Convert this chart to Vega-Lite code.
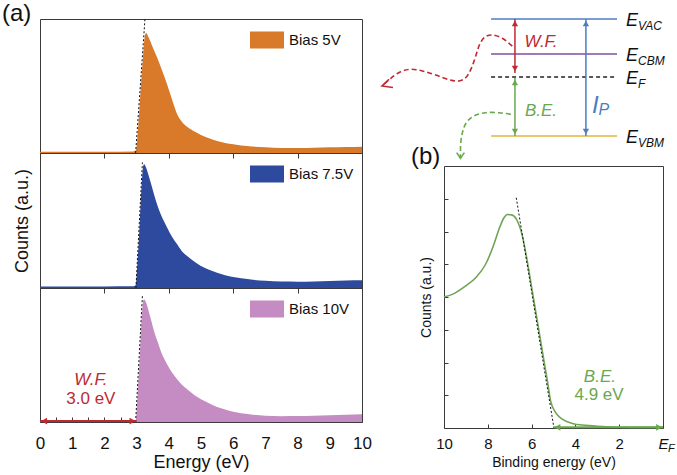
{
 "$schema": "https://vega.github.io/schema/vega-lite/v6.json",
 "background": "white",
 "padding": {"left": 1, "top": 1, "right": 0, "bottom": 0},
 "config": {
  "font": "Liberation Sans",
  "view": {"stroke": "#3a3a3a", "strokeWidth": 1},
  "axis": {"grid": false, "domain": false, "tickColor": "#3a3a3a", "labelColor": "#111111", "titleColor": "#111111", "titleFontWeight": "normal"},
  "title": {"fontWeight": "normal", "color": "#111111"},
  "legend": {"title": null, "orient": "none", "legendX": 210, "legendY": 4, "padding": 0, "symbolType": "M-1,-0.5H1V0.5H-1Z", "symbolSize": 1156, "symbolStrokeWidth": 0, "labelFontSize": 15, "labelOffset": 5, "labelColor": "#111111"}
 },
 "datasets": {
  "s5": [{"e":0,"c":0.01},{"e":1,"c":0.01},{"e":2,"c":0.01},{"e":2.9,"c":0.012},{"e":2.98,"c":0.02},{"e":3.05,"c":0.2},{"e":3.12,"c":0.45},{"e":3.2,"c":0.72},{"e":3.26,"c":0.88},{"e":3.3,"c":0.895},{"e":3.36,"c":0.87},{"e":3.5,"c":0.79},{"e":3.64,"c":0.71},{"e":3.8,"c":0.61},{"e":3.95,"c":0.51},{"e":4.1,"c":0.4},{"e":4.26,"c":0.29},{"e":4.4,"c":0.235},{"e":4.57,"c":0.195},{"e":4.8,"c":0.16},{"e":5.0,"c":0.135},{"e":5.25,"c":0.11},{"e":5.5,"c":0.09},{"e":6.0,"c":0.065},{"e":6.5,"c":0.05},{"e":7.0,"c":0.042},{"e":7.5,"c":0.037},{"e":8.0,"c":0.037},{"e":8.5,"c":0.04},{"e":9.0,"c":0.043},{"e":9.5,"c":0.045},{"e":10,"c":0.047}],
  "s75": [{"e":0,"c":0.012},{"e":1,"c":0.012},{"e":2,"c":0.012},{"e":2.9,"c":0.013},{"e":2.97,"c":0.02},{"e":3.03,"c":0.2},{"e":3.1,"c":0.5},{"e":3.16,"c":0.78},{"e":3.21,"c":0.91},{"e":3.24,"c":0.916},{"e":3.28,"c":0.9},{"e":3.33,"c":0.867},{"e":3.44,"c":0.78},{"e":3.54,"c":0.694},{"e":3.65,"c":0.61},{"e":3.75,"c":0.546},{"e":3.95,"c":0.447},{"e":4.1,"c":0.38},{"e":4.26,"c":0.324},{"e":4.4,"c":0.275},{"e":4.57,"c":0.237},{"e":4.8,"c":0.195},{"e":5.0,"c":0.163},{"e":5.25,"c":0.135},{"e":5.5,"c":0.113},{"e":5.75,"c":0.095},{"e":6.0,"c":0.081},{"e":6.5,"c":0.064},{"e":7.0,"c":0.053},{"e":7.5,"c":0.048},{"e":8.0,"c":0.047},{"e":8.5,"c":0.049},{"e":9.0,"c":0.052},{"e":9.5,"c":0.055},{"e":10,"c":0.057}],
  "s10": [{"e":0,"c":0.006},{"e":1,"c":0.006},{"e":2,"c":0.006},{"e":2.9,"c":0.007},{"e":2.97,"c":0.012},{"e":3.03,"c":0.2},{"e":3.1,"c":0.5},{"e":3.16,"c":0.78},{"e":3.21,"c":0.91},{"e":3.24,"c":0.915},{"e":3.28,"c":0.9},{"e":3.33,"c":0.866},{"e":3.44,"c":0.77},{"e":3.54,"c":0.679},{"e":3.65,"c":0.6},{"e":3.75,"c":0.53},{"e":3.95,"c":0.43},{"e":4.1,"c":0.37},{"e":4.26,"c":0.319},{"e":4.4,"c":0.28},{"e":4.57,"c":0.244},{"e":4.8,"c":0.2},{"e":5.0,"c":0.17},{"e":5.25,"c":0.14},{"e":5.5,"c":0.112},{"e":5.75,"c":0.093},{"e":6.0,"c":0.077},{"e":6.5,"c":0.058},{"e":7.0,"c":0.046},{"e":7.5,"c":0.043},{"e":8.0,"c":0.044},{"e":8.5,"c":0.047},{"e":9.0,"c":0.051},{"e":9.5,"c":0.054},{"e":10,"c":0.057}],
  "t5": [{"e":2.97,"c":0},{"e":3.26,"c":1}],
  "t75": [{"e":2.98,"c":0},{"e":3.18,"c":0.93}],
  "t10": [{"e":2.97,"c":0},{"e":3.18,"c":0.94}],
  "wfArrow": [{"e1":0,"e2":3.0,"c":0.007}],
  "wfHeads": [{"e":0.13,"c":0.007,"dir":"left"},{"e":2.87,"c":0.007,"dir":"right"}],
  "wfText": [{"e":1.58,"c":0.313,"t":"W.F."}],
  "wfVal": [{"e":1.58,"c":0.175,"t":"3.0 eV"}],
  "bline": [{"be":10.0,"c":4.0},{"be":9.62,"c":4.08},{"be":9.01,"c":4.34},{"be":8.55,"c":4.59},{"be":8.1,"c":5.0},{"be":7.72,"c":5.61},{"be":7.49,"c":6.07},{"be":7.26,"c":6.42},{"be":7.11,"c":6.52},{"be":6.88,"c":6.5},{"be":6.65,"c":6.32},{"be":6.42,"c":5.86},{"be":6.2,"c":5.1},{"be":5.97,"c":4.18},{"be":5.74,"c":3.27},{"be":5.51,"c":2.35},{"be":5.28,"c":1.44},{"be":5.13,"c":0.82},{"be":4.9,"c":0.47},{"be":4.6,"c":0.27},{"be":4.14,"c":0.14},{"be":3.53,"c":0.08},{"be":2.62,"c":0.04},{"be":1.4,"c":0.02},{"be":0,"c":0.02}],
  "btan": [{"be":6.7,"c":7.03},{"be":4.98,"c":0.0}],
  "beArrow": [{"b1":5.0,"b2":0,"c":0.02}],
  "beHeads": [{"be":4.82,"c":0.02,"dir":"left"},{"be":0.18,"c":0.02,"dir":"right"}],
  "beText": [{"be":2.88,"c":1.56,"t":"B.E."}],
  "beVal": [{"be":2.92,"c":1.0,"t":"4.9 eV"}],
  "efSub": [{"be":-0.23,"c":-0.63,"t":"F"}],
  "levels": [{"k":"VAC","x1":2.15,"x2":7.9,"y":10},{"k":"CBM","x1":2.15,"x2":7.9,"y":7.01},{"k":"F","x1":2.15,"x2":7.9,"y":5.04},{"k":"VBM","x1":2.15,"x2":7.9,"y":0}],
  "arrows": [{"k":"WF","x":3.24,"y1":10,"y2":5.38},{"k":"BE","x":3.24,"y1":4.96,"y2":0},{"k":"IP","x":6.48,"y1":10,"y2":0}],
  "heads": [{"k":"WF","x":3.24,"y":9.62,"dir":"up"},{"k":"WF","x":3.24,"y":5.76,"dir":"down"},{"k":"BE","x":3.24,"y":4.58,"dir":"up"},{"k":"BE","x":3.24,"y":0.38,"dir":"down"},{"k":"IP","x":6.48,"y":9.62,"dir":"up"},{"k":"IP","x":6.48,"y":0.38,"dir":"down"}],
  "curves": [{"k":"WF","i":0,"x":3.12,"y":7.69},{"k":"WF","i":1,"x":2.66,"y":8.35},{"k":"WF","i":2,"x":2.21,"y":8.63},{"k":"WF","i":3,"x":1.87,"y":8.46},{"k":"WF","i":4,"x":1.63,"y":7.84},{"k":"WF","i":5,"x":1.45,"y":6.84},{"k":"WF","i":6,"x":1.26,"y":5.84},{"k":"WF","i":7,"x":1.02,"y":5.04},{"k":"WF","i":8,"x":0.68,"y":4.7},{"k":"WF","i":9,"x":0.23,"y":4.81},{"k":"WF","i":10,"x":-0.38,"y":5.21},{"k":"WF","i":11,"x":-0.99,"y":5.56},{"k":"WF","i":12,"x":-1.52,"y":5.7},{"k":"WF","i":13,"x":-1.98,"y":5.5},{"k":"WF","i":14,"x":-2.43,"y":4.93},{"k":"WF","i":15,"x":-2.83,"y":4.27},{"k":"BE","i":0,"x":3.05,"y":1.85},{"k":"BE","i":1,"x":2.51,"y":1.99},{"k":"BE","i":2,"x":1.9,"y":1.99},{"k":"BE","i":3,"x":1.37,"y":1.71},{"k":"BE","i":4,"x":1.02,"y":1.14},{"k":"BE","i":5,"x":0.84,"y":0.28},{"k":"BE","i":6,"x":0.76,"y":-0.71},{"k":"BE","i":7,"x":0.75,"y":-1.91}],
  "vheads": [{"k":"WF","i":0,"x":-2.51,"y":4.85},{"k":"WF","i":1,"x":-2.83,"y":4.27},{"k":"WF","i":2,"x":-2.33,"y":4.15},{"k":"BE","i":0,"x":0.58,"y":-1.42},{"k":"BE","i":1,"x":0.75,"y":-1.91},{"k":"BE","i":2,"x":0.93,"y":-1.42}],
  "notes": [{"k":"WF","t":"W.F.","x":4.43,"y":8.03},{"k":"BE","t":"B.E.","x":4.43,"y":2.14}],
  "ipMain": [{"k":"IP","t":"I","x":6.76,"y":2.56}],
  "ipSub": [{"k":"IP","t":"P","x":7.05,"y":2.2}],
  "levE": [{"t":"E","x":8.31,"y":10},{"t":"E","x":8.31,"y":7.01},{"t":"E","x":8.31,"y":5.04},{"t":"E","x":8.31,"y":0}],
  "levSub": [{"t":"VAC","x":8.31,"y":10},{"t":"CBM","x":8.31,"y":7.01},{"t":"F","x":8.31,"y":5.04},{"t":"VBM","x":8.31,"y":0}]
 },
 "spacing": 6,
 "resolve": {"scale": {"x": "independent", "y": "independent", "color": "independent", "shape": "independent", "strokeDash": "independent"}},
 "hconcat": [
  {
   "vconcat": [
    {
     "width": 322, "height": 134,
     "title": {"text": "(a)", "anchor": "start", "frame": "group", "fontSize": 24, "dx": -38, "offset": 0, "dy": 28, "baseline": "alphabetic"},
     "layer": [
      {"data": {"name": "s5"}, "mark": {"type": "area", "interpolate": "monotone"},
       "encoding": {
        "x": {"field": "e", "type": "quantitative", "scale": {"domain": [0, 10]}, "axis": {"values": [0,0.5,1,1.5,2,2.5,3,3.5,4,4.5,5,5.5,6,6.5,7,7.5,8,8.5,9,9.5,10], "labels": false, "title": null, "tickSize": 5}},
        "y": {"field": "c", "type": "quantitative", "scale": {"domain": [0, 1]}, "axis": null},
        "color": {"datum": "Bias 5V", "type": "nominal", "scale": {"domain": ["Bias 5V"], "range": ["#D87A2A"]}}
       }},
      {"data": {"name": "t5"}, "mark": {"type": "line", "strokeDash": [2, 2], "color": "#111111", "strokeWidth": 1},
       "encoding": {"x": {"field": "e", "type": "quantitative"}, "y": {"field": "c", "type": "quantitative"}}}
     ]
    },
    {
     "width": 322, "height": 135,
     "layer": [
      {"data": {"name": "s75"}, "mark": {"type": "area", "interpolate": "monotone"},
       "encoding": {
        "x": {"field": "e", "type": "quantitative", "scale": {"domain": [0, 10]}, "axis": {"values": [0,0.5,1,1.5,2,2.5,3,3.5,4,4.5,5,5.5,6,6.5,7,7.5,8,8.5,9,9.5,10], "labels": false, "title": null, "tickSize": 5}},
        "y": {"field": "c", "type": "quantitative", "scale": {"domain": [0, 1]}, "axis": {"title": "Counts (a.u.)", "titleFontSize": 18, "titlePadding": 9, "labels": false, "ticks": false, "domain": false}},
        "color": {"datum": "Bias 7.5V", "type": "nominal", "scale": {"domain": ["Bias 7.5V"], "range": ["#2D4A9E"]}}
       }},
      {"data": {"name": "t75"}, "mark": {"type": "line", "strokeDash": [2, 2], "color": "#111111", "strokeWidth": 1},
       "encoding": {"x": {"field": "e", "type": "quantitative"}, "y": {"field": "c", "type": "quantitative"}}}
     ]
    },
    {
     "width": 322, "height": 134,
     "resolve": {"axis": {"x": "independent"}},
     "layer": [
      {"data": {"name": "s10"}, "mark": {"type": "area", "interpolate": "monotone"},
       "encoding": {
        "x": {"field": "e", "type": "quantitative", "scale": {"domain": [0, 10]}, "axis": {"values": [0,1,2,3,4,5,6,7,8,9,10], "orient": "bottom", "tickSize": -5, "labelFontSize": 17, "labelPadding": 18, "labelFlush": false, "labelOverlap": false, "title": "Energy (eV)", "titleFontSize": 18, "titlePadding": 2}},
        "y": {"field": "c", "type": "quantitative", "scale": {"domain": [0, 1]}, "axis": null},
        "color": {"datum": "Bias 10V", "type": "nominal", "scale": {"domain": ["Bias 10V"], "range": ["#C48CC2"]}}
       }},
      {"data": {"name": "t10"}, "mark": {"type": "line", "strokeDash": [2, 2], "color": "#111111", "strokeWidth": 1},
       "encoding": {"x": {"field": "e", "type": "quantitative", "axis": {"values": [0.5,1.5,2.5,3.5,4.5,5.5,6.5,7.5,8.5,9.5], "orient": "bottom", "tickSize": -5, "labels": false, "title": null}}, "y": {"field": "c", "type": "quantitative"}}},
      {"data": {"name": "wfArrow"}, "mark": {"type": "rule", "color": "#BE2A32", "strokeWidth": 2},
       "encoding": {"x": {"field": "e1", "type": "quantitative", "axis": null}, "x2": {"field": "e2"}, "y": {"field": "c", "type": "quantitative"}}},
      {"data": {"name": "wfHeads"}, "mark": {"type": "point", "filled": true, "opacity": 1, "color": "#BE2A32", "size": 45},
       "encoding": {"x": {"field": "e", "type": "quantitative", "axis": null}, "y": {"field": "c", "type": "quantitative"},
        "shape": {"field": "dir", "type": "nominal", "scale": {"domain": ["left", "right"], "range": ["triangle-left", "triangle-right"]}, "legend": null}}},
      {"data": {"name": "wfText"}, "mark": {"type": "text", "fontSize": 17, "fontStyle": "italic", "color": "#BE2A32", "baseline": "middle"},
       "encoding": {"x": {"field": "e", "type": "quantitative", "axis": null}, "y": {"field": "c", "type": "quantitative"}, "text": {"field": "t"}}},
      {"data": {"name": "wfVal"}, "mark": {"type": "text", "fontSize": 17, "color": "#BE2A32", "baseline": "middle"},
       "encoding": {"x": {"field": "e", "type": "quantitative", "axis": null}, "y": {"field": "c", "type": "quantitative"}, "text": {"field": "t"}}}
     ]
    }
   ],
   "spacing": 0,
   "bounds": "flush",
   "resolve": {"scale": {"color": "independent", "shape": "independent"}, "legend": {"color": "independent"}}
  },
  {
   "vconcat": [
    {
     "width": 219, "height": 117,
     "view": {"stroke": null},
     "layer": [
      {"data": {"name": "levels"}, "mark": {"type": "rule", "strokeWidth": 1.5},
       "encoding": {
        "x": {"field": "x1", "type": "quantitative", "scale": {"domain": [0, 10]}, "axis": null},
        "x2": {"field": "x2"},
        "y": {"field": "y", "type": "quantitative", "scale": {"domain": [0, 10]}, "axis": null},
        "color": {"field": "k", "type": "nominal", "scale": {"domain": ["VAC","CBM","F","VBM","WF","BE","IP"], "range": ["#4E7CC2","#7C4E9E","#222222","#E3B63C","#BE2A32","#6AA84F","#4E7CC2"]}, "legend": null},
        "strokeDash": {"field": "k", "type": "nominal", "scale": {"domain": ["VAC","CBM","F","VBM"], "range": [[1,0],[1,0],[4,3],[1,0]]}, "legend": null}
       }},
      {"data": {"name": "arrows"}, "mark": {"type": "rule", "strokeWidth": 1.5},
       "encoding": {
        "x": {"field": "x", "type": "quantitative"},
        "y": {"field": "y1", "type": "quantitative"}, "y2": {"field": "y2"},
        "color": {"field": "k", "type": "nominal", "legend": null}
       }},
      {"data": {"name": "heads"}, "mark": {"type": "point", "filled": true, "opacity": 1, "size": 40},
       "encoding": {
        "x": {"field": "x", "type": "quantitative"}, "y": {"field": "y", "type": "quantitative"},
        "color": {"field": "k", "type": "nominal", "legend": null},
        "shape": {"field": "dir", "type": "nominal", "scale": {"domain": ["up", "down"], "range": ["triangle-up", "triangle-down"]}, "legend": null}
       }},
      {"data": {"name": "curves"}, "mark": {"type": "line", "interpolate": "cardinal", "strokeDash": [5, 3], "strokeWidth": 1.6},
       "encoding": {
        "x": {"field": "x", "type": "quantitative"}, "y": {"field": "y", "type": "quantitative"},
        "color": {"field": "k", "type": "nominal", "legend": null},
        "order": {"field": "i", "type": "quantitative"}
       }},
      {"data": {"name": "vheads"}, "mark": {"type": "line", "strokeWidth": 1.6},
       "encoding": {
        "x": {"field": "x", "type": "quantitative"}, "y": {"field": "y", "type": "quantitative"},
        "color": {"field": "k", "type": "nominal", "legend": null},
        "order": {"field": "i", "type": "quantitative"}
       }},
      {"data": {"name": "notes"}, "mark": {"type": "text", "fontSize": 17, "fontStyle": "italic", "baseline": "middle"},
       "encoding": {
        "x": {"field": "x", "type": "quantitative"}, "y": {"field": "y", "type": "quantitative"},
        "color": {"field": "k", "type": "nominal", "legend": null},
        "text": {"field": "t"}
       }},
      {"data": {"name": "ipMain"}, "mark": {"type": "text", "fontSize": 24, "fontStyle": "italic", "baseline": "middle", "align": "left"},
       "encoding": {
        "x": {"field": "x", "type": "quantitative"}, "y": {"field": "y", "type": "quantitative"},
        "color": {"field": "k", "type": "nominal", "legend": null},
        "text": {"field": "t"}
       }},
      {"data": {"name": "ipSub"}, "mark": {"type": "text", "fontSize": 16, "fontStyle": "italic", "baseline": "middle", "align": "left"},
       "encoding": {
        "x": {"field": "x", "type": "quantitative"}, "y": {"field": "y", "type": "quantitative"},
        "color": {"field": "k", "type": "nominal", "legend": null},
        "text": {"field": "t"}
       }},
      {"data": {"name": "levE"}, "mark": {"type": "text", "fontSize": 18, "fontStyle": "italic", "baseline": "middle", "align": "left", "color": "#111111", "dy": 2},
       "encoding": {"x": {"field": "x", "type": "quantitative"}, "y": {"field": "y", "type": "quantitative"}, "text": {"field": "t"}}},
      {"data": {"name": "levSub"}, "mark": {"type": "text", "fontSize": 12, "fontStyle": "italic", "baseline": "middle", "align": "left", "color": "#111111", "dx": 12, "dy": 7},
       "encoding": {"x": {"field": "x", "type": "quantitative"}, "y": {"field": "y", "type": "quantitative"}, "text": {"field": "t"}}}
     ]
    },
    {
     "width": 219, "height": 262,
     "title": {"text": "(b)", "anchor": "start", "frame": "group", "fontSize": 24, "dx": -33, "offset": 0, "dy": 22, "baseline": "alphabetic"},
     "layer": [
      {"data": {"name": "bline"}, "mark": {"type": "line", "interpolate": "monotone", "color": "#6FA556", "strokeWidth": 1.6},
       "encoding": {
        "x": {"field": "be", "type": "quantitative", "scale": {"domain": [0, 10], "reverse": true},
         "axis": {"values": [0,1,2,3,4,5,6,7,8,9,10], "labelExpr": "datum.value == 0 ? 'E' : (datum.value % 2 == 0 ? datum.label : '')", "labelFontStyle": {"condition": {"test": "datum.value == 0", "value": "italic"}, "value": "normal"}, "tickSize": -4, "labelFontSize": 15, "labelPadding": 12, "labelFlush": false, "labelOverlap": false, "title": "Binding energy (eV)", "titleFontSize": 14, "titlePadding": 4}},
        "y": {"field": "c", "type": "quantitative", "scale": {"domain": [0, 8]},
         "axis": {"values": [1,2,3,4,5,6,7], "labels": false, "tickSize": -4, "title": "Counts (a.u.)", "titleFontSize": 14, "titlePadding": 10}}
       }},
      {"data": {"name": "btan"}, "mark": {"type": "line", "strokeDash": [2, 2], "color": "#111111", "strokeWidth": 1},
       "encoding": {"x": {"field": "be", "type": "quantitative"}, "y": {"field": "c", "type": "quantitative"}}},
      {"data": {"name": "beArrow"}, "mark": {"type": "rule", "color": "#6AA84F", "strokeWidth": 2},
       "encoding": {"x": {"field": "b1", "type": "quantitative"}, "x2": {"field": "b2"}, "y": {"field": "c", "type": "quantitative"}}},
      {"data": {"name": "beHeads"}, "mark": {"type": "point", "filled": true, "opacity": 1, "color": "#6AA84F", "size": 45},
       "encoding": {"x": {"field": "be", "type": "quantitative"}, "y": {"field": "c", "type": "quantitative"},
        "shape": {"field": "dir", "type": "nominal", "scale": {"domain": ["left", "right"], "range": ["triangle-left", "triangle-right"]}, "legend": null}}},
      {"data": {"name": "beText"}, "mark": {"type": "text", "fontSize": 17, "fontStyle": "italic", "color": "#6AA84F", "baseline": "middle"},
       "encoding": {"x": {"field": "be", "type": "quantitative"}, "y": {"field": "c", "type": "quantitative"}, "text": {"field": "t"}}},
      {"data": {"name": "beVal"}, "mark": {"type": "text", "fontSize": 17, "color": "#6AA84F", "baseline": "middle"},
       "encoding": {"x": {"field": "be", "type": "quantitative"}, "y": {"field": "c", "type": "quantitative"}, "text": {"field": "t"}}},
      {"data": {"name": "efSub"}, "mark": {"type": "text", "fontSize": 11, "fontStyle": "italic", "color": "#111111", "baseline": "middle", "align": "left"},
       "encoding": {"x": {"field": "be", "type": "quantitative"}, "y": {"field": "c", "type": "quantitative"}, "text": {"field": "t"}}}
     ]
    }
   ],
   "spacing": 30,
   "bounds": "flush",
   "resolve": {"scale": {"x": "independent", "y": "independent", "color": "independent", "shape": "independent"}}
  }
 ]
}
